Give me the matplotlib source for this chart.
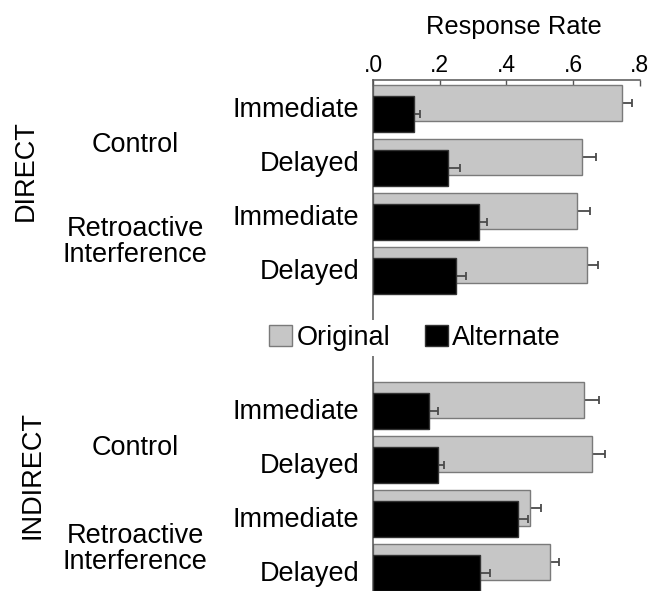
import numpy as np
import matplotlib as mpl
import matplotlib.pyplot as plt

plt.rcParams['font.family'] = ['Liberation Sans', 'DejaVu Sans']

# values
conditions = ['Immediate', 'Delayed', 'Immediate', 'Delayed']
groups = ['Control', 'Retroactive\nInterference']
panels = ['DIRECT', 'INDIRECT']

direct_original = [0.748, 0.627, 0.612, 0.642]
direct_original_err = [0.030, 0.042, 0.038, 0.032]
direct_alternate = [0.122, 0.224, 0.317, 0.250]
direct_alternate_err = [0.020, 0.036, 0.025, 0.030]

indirect_original = [0.634, 0.657, 0.472, 0.530]
indirect_original_err = [0.044, 0.038, 0.032, 0.029]
indirect_alternate = [0.167, 0.194, 0.435, 0.322]
indirect_alternate_err = [0.027, 0.018, 0.029, 0.030]

xticks = [0.0, 0.2, 0.4, 0.6, 0.8]
xticklabels = ['.0', '.2', '.4', '.6', '.8']

W, H = 648, 591
fig = plt.figure(figsize=(W / 100, H / 100), dpi=100)
ax = fig.add_axes([373 / W, 0, 266.6 / W, 1 - 79.5 / H])

gray = '#c6c6c6'
errkw = dict(fmt='none', ecolor='#4a4a4a', elinewidth=1.3, capsize=2.6, capthick=1.3)

panel_start = [0.0, 5.5]
original = [direct_original, indirect_original]
original_err = [direct_original_err, indirect_original_err]
alternate = [direct_alternate, indirect_alternate]
alternate_err = [direct_alternate_err, indirect_alternate_err]
label_shift = [0.08, 0.17]

ytick_pos = []
ytick_lab = []
for p in range(2):
    y = panel_start[p] + np.arange(4)
    h1 = ax.barh(y, original[p], height=0.667, color=gray, edgecolor='#7a7a7a',
                 linewidth=1.0, zorder=2)
    h2 = ax.barh(y + 0.2, alternate[p], height=0.667, color='black', edgecolor='#333333',
                 linewidth=1.0, zorder=3)
    # symmetric bars, lower half hidden behind the bar itself
    ax.errorbar(original[p], y, xerr=original_err[p], zorder=1.5, **errkw)
    ax.errorbar(alternate[p], y + 0.2, xerr=alternate_err[p], zorder=2.5, **errkw)
    ytick_pos += list(y + label_shift[p])
    ytick_lab += conditions

ax.set_xlim(0, 0.8)
ax.set_ylim(9.037, -0.435)
ax.xaxis.tick_top()
ax.set_xticks(xticks)
ax.set_xticklabels(xticklabels, fontsize=16.5)
ax.tick_params(axis='x', direction='in', length=4, width=1, color='#555555', pad=2)
ax.set_yticks(ytick_pos)
ax.set_yticklabels(ytick_lab, fontsize=19.5)
ax.tick_params(axis='y', length=0, pad=10)
for s in ['right', 'bottom']:
    ax.spines[s].set_visible(False)
for s in ['left', 'top']:
    ax.spines[s].set_color('#555555')
    ax.spines[s].set_linewidth(1.1)

fig.text(514 / W, 1 - 34 / H, 'Response Rate', fontsize=18.4, ha='center', va='baseline')

tr = mpl.transforms.blended_transform_factory(fig.transFigure, ax.transData)
group_y = [[0.78, 2.58], [6.38, 8.25]]
panel_y = [1.26, 6.88]
panel_x = [26 / W, 32.5 / W]
for p in range(2):
    for g in range(2):
        ax.text(135 / W, group_y[p][g], groups[g], transform=tr, fontsize=19.5,
                ha='center', va='center', linespacing=1.0)
    ax.text(panel_x[p], panel_y[p], panels[p], transform=tr, fontsize=19.5,
            ha='center', va='center', rotation=90)

leg = ax.legend([h1, h2], ['Original', 'Alternate'], loc='center',
                bbox_to_anchor=(415 / W, 1 - 338 / H), bbox_transform=fig.transFigure,
                ncol=2, fontsize=19.5, frameon=True, facecolor='white', edgecolor='none',
                framealpha=1, fancybox=False, handlelength=0.85, handleheight=0.81,
                handletextpad=0.16, columnspacing=1.26, borderpad=0.2)

fig.savefig('out.png', dpi=100)
